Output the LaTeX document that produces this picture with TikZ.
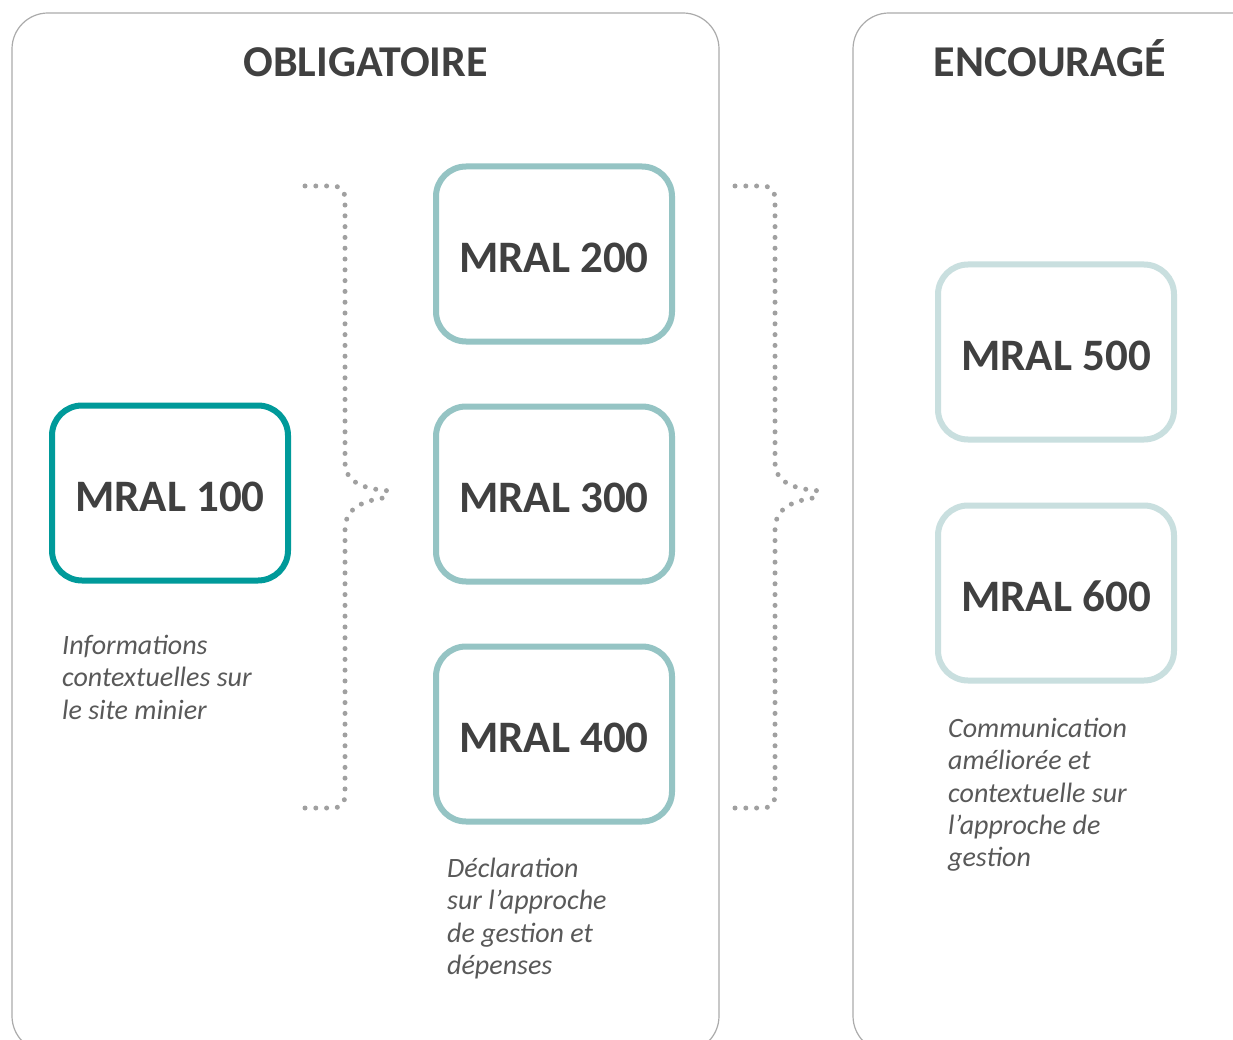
\documentclass[tikz,border=0pt]{standalone}
\usepackage{fontspec}
\setmainfont{Carlito}
\usetikzlibrary{positioning}
\definecolor{txtdark}{HTML}{404040}
\definecolor{txtgray}{HTML}{595959}
\definecolor{panelgray}{HTML}{ABABAB}
\definecolor{tealA}{HTML}{009A9A}
\definecolor{tealB}{HTML}{95C4C4}
\definecolor{tealC}{HTML}{C9DFDF}
\definecolor{dotgray}{HTML}{A0A0A0}
\begin{document}
\begin{tikzpicture}[x=1pt,y=-1pt,
  panel/.style={draw=panelgray, line width=1.2pt, rounded corners=36pt},
  mral/.style={draw, line width=6pt, rounded corners=30pt, minimum width=236pt, minimum height=175pt,
     inner sep=0pt, text=txtdark, text height=37pt, text depth=0pt, font=\fontsize{45}{54}\selectfont\bfseries},
  title/.style={text=txtdark, font=\fontsize{44}{52}\selectfont\bfseries, inner sep=0pt, anchor=base},
  desc/.style={text=txtgray, font=\fontsize{28}{32.3}\selectfont\itshape, align=left, inner sep=0pt, anchor=north west},
  brace/.style={draw=dotgray, line width=5pt, line cap=round, dash pattern=on 0pt off 10.8pt}
]
\useasboundingbox (0,0) rectangle (1233,1040);
\fill[white] (0,0) rectangle (1233,1040);

% panels
\draw[panel] (12,13) rectangle (719,1052);
\draw[panel] (853,13) rectangle (1290,1052);

\node[title] (t1) at (365.5,77) {OBLIGATOIRE};
\node[title] (t2) at (1050,77) {ENCOURAGÉ};

% boxes
\node[mral, draw=tealA] (m100) at (170,493) {MRAL 100};
\node[mral, draw=tealB] (m200) at (554,254) {MRAL 200};
\node[mral, draw=tealB] (m300) at (554,494) {MRAL 300};
\node[mral, draw=tealB] (m400) at (554,734) {MRAL 400};
\node[mral, draw=tealC] (m500) at (1056,352) {MRAL 500};
\node[mral, draw=tealC] (m600) at (1056,593) {MRAL 600};

% descriptions
\node[desc] (d1) at (62,635) {Informations\\contextuelles sur\\le site minier};
\node[desc] (d2) at (447,858) {Déclaration\\sur l’approche\\de gestion et\\dépenses};
\node[desc] (d3) at (948,718) {Communication\\améliorée et\\contextuelle sur\\l’approche de\\gestion};

% braces
\foreach \dx/\nm in {0/b1, 430/b2}{
  \begin{scope}[xshift=\dx pt]
  \coordinate (\nm tip) at (391,491);
  \draw[brace] (305,186) -- (334,186) to[out=0,in=90] (345,198) -- (345,462)
     .. controls (345,482) and (362,489) .. (\nm tip);
  \draw[brace] (305,808) -- (334,808) to[out=0,in=-90] (345,796) -- (345,530)
     .. controls (345,508) and (362,500) .. ([yshift=-6pt]\nm tip);
  \end{scope}
}
\end{tikzpicture}
\end{document}
